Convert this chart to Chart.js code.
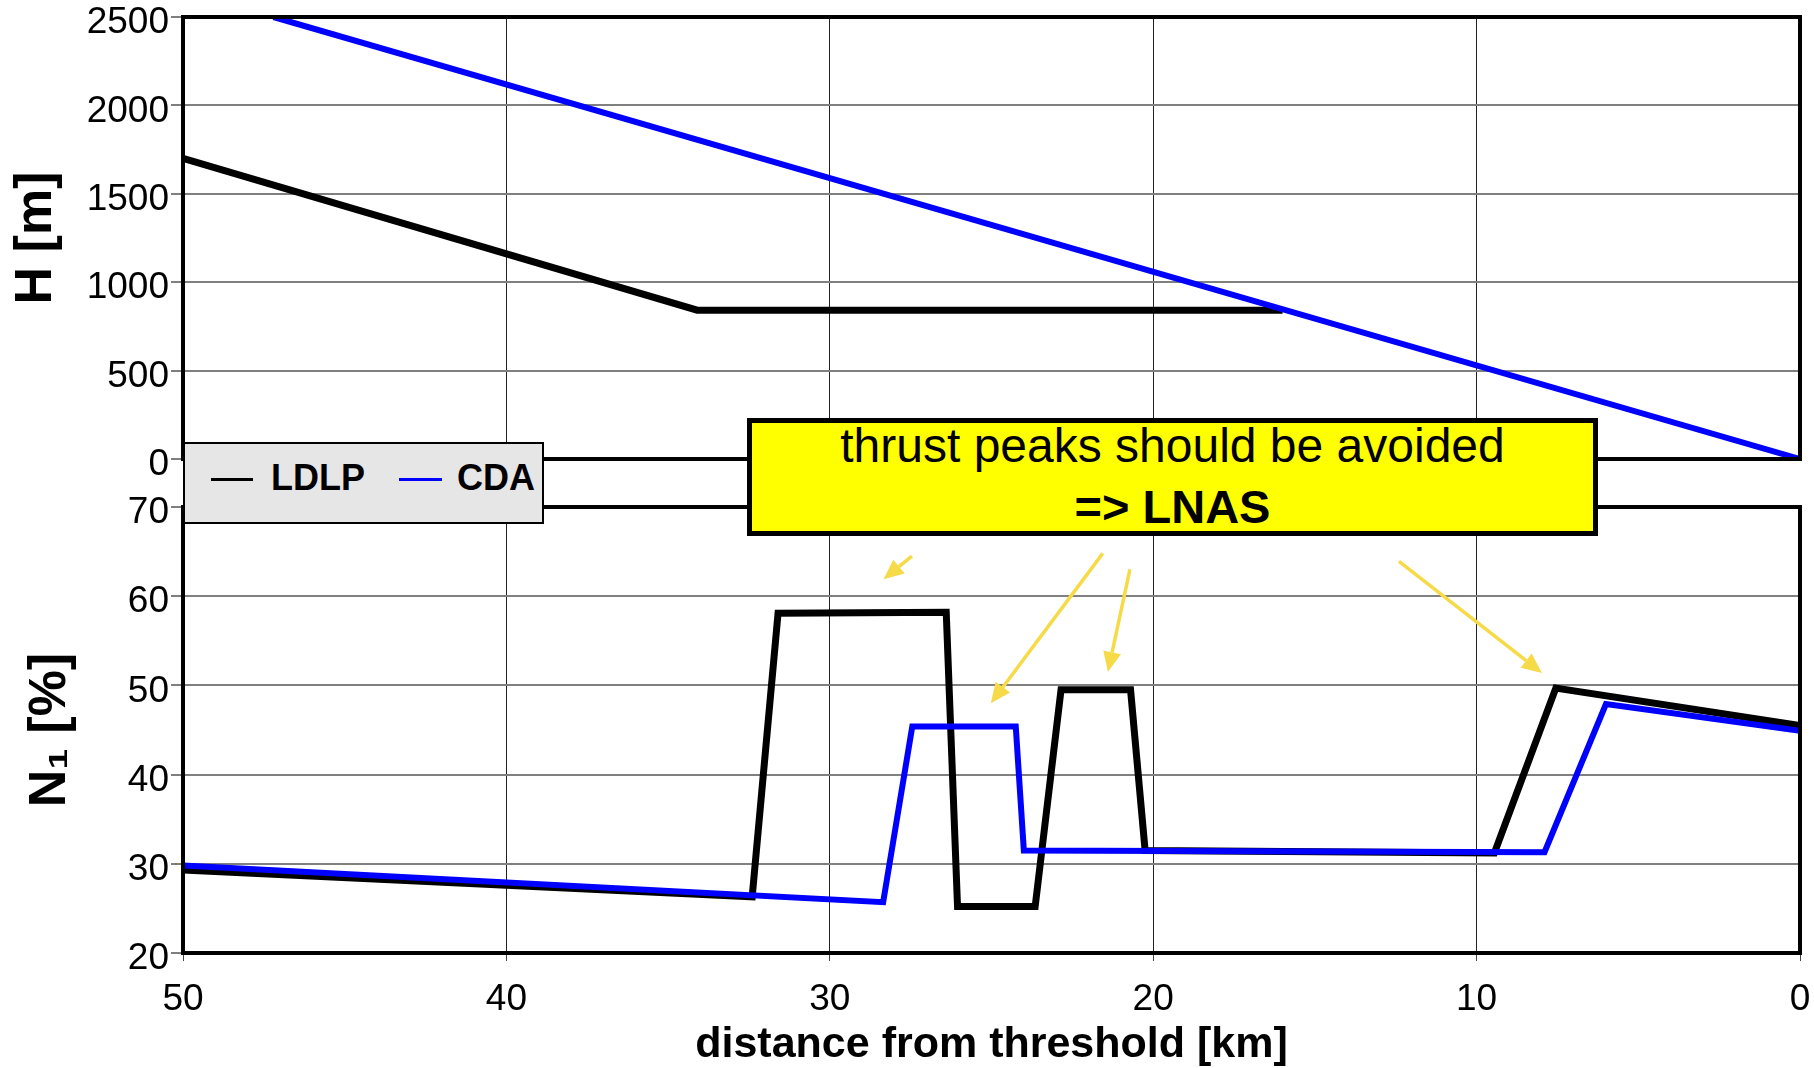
<!DOCTYPE html>
<html>
<head>
<meta charset="utf-8">
<title>Approach profiles: height and thrust</title>
<script src="https://cdn.jsdelivr.net/npm/chart.js@4.4.1/dist/chart.umd.min.js"></script>
<style>
  html, body { margin: 0; padding: 0; background: #fff; }
  body { width: 1814px; height: 1068px; position: relative; overflow: hidden;
         font-family: "Liberation Sans", Arial, sans-serif; color: #000; }
  #hCanvas { position: absolute; left: 0; top: 0; }
  #nCanvas { position: absolute; left: 0; top: 480px; }
  .legend { position: absolute; left: 183px; top: 442px; width: 361px; height: 82px;
            box-sizing: border-box; background: #e6e6e6; border: 2px solid #000; }
  .legend .swatch { position: absolute; top: 34px; height: 3px; }
  .legend .name { position: absolute; top: 16px; font-size: 36px; line-height: 36px; font-weight: bold; white-space: nowrap; }
  .note { position: absolute; left: 747px; top: 418px; width: 851px; height: 118px;
          box-sizing: border-box; background: #ffff00; border: 5px solid #000; }
  .note div { position: absolute; left: 0; right: 0; text-align: center; white-space: nowrap; }
</style>
</head>
<body>
<canvas id="hCanvas" width="1814" height="480"></canvas>
<canvas id="nCanvas" width="1814" height="588"></canvas>

<div class="legend">
  <div class="swatch" style="left:26px;width:42px;background:#000;"></div>
  <div class="name" style="left:86px;">LDLP</div>
  <div class="swatch" style="left:214px;width:43px;background:#0000ff;"></div>
  <div class="name" style="left:272px;">CDA</div>
</div>

<div class="note">
  <div style="top:-1px;font-size:48px;line-height:48px;">thrust peaks should be avoided</div>
  <div style="top:60px;font-size:47px;line-height:47px;font-weight:bold;">=&gt; LNAS</div>
</div>

<script>
// Distance from the runway threshold, km (axis runs 50 -> 0)
const distanceTicks = [0, 10, 20, 30, 40, 50];

// Upper panel: height H [m]
const heightTicks = [0, 500, 1000, 1500, 2000, 2500];
const heightKmLDLP = [50, 34.1, 16.0];
const heightLDLP   = [1700, 842, 842];
const heightKmCDA  = [47.2, 0];
const heightCDA    = [2500, 0];

// Lower panel: fan speed N1 [%]
const thrustTicks = [20, 30, 40, 50, 60, 70];
const thrustKmLDLP = [50, 32.4, 31.6, 26.4, 26.05, 23.65, 22.85, 20.7, 20.25, 9.45, 7.55, 0];
const thrustLDLP   = [29.3, 26.3, 58.1, 58.2, 25.2, 25.2, 49.5, 49.5, 31.5, 31.2, 49.7, 45.5];
const thrustKmCDA  = [50, 28.35, 27.45, 24.25, 24.0, 7.9, 6.0, 0];
const thrustCDA    = [29.8, 25.7, 45.4, 45.4, 31.5, 31.3, 47.9, 44.9];

// Callout arrows in the lower panel, [km, N1] from tail to tip
const callouts = [
  { from: [27.46, 64.5], to: [28.34, 61.9] },
  { from: [21.56, 64.8], to: [25.02, 48.0] },
  { from: [20.72, 63.0], to: [21.40, 51.5] },
  { from: [12.40, 63.9], to: [7.98, 51.4] }
];

const pts = (xs, ys) => xs.map((x, i) => ({ x, y: ys[i] }));
const FONT = '"Liberation Sans", Arial, sans-serif';
Chart.defaults.font.family = FONT;
Chart.defaults.color = '#000';

// Heavy frame around each plot area
const framePlugin = {
  id: 'frame',
  afterDraw(chart) {
    const { ctx, chartArea: a } = chart;
    ctx.save();
    ctx.strokeStyle = '#000';
    ctx.lineWidth = 4;
    ctx.strokeRect(a.left, a.top, a.right - a.left, a.bottom - a.top);
    ctx.restore();
  }
};

// Yellow arrows pointing at the thrust peaks
const calloutPlugin = {
  id: 'callouts',
  afterDraw(chart) {
    const { ctx, scales: { x, y } } = chart;
    ctx.save();
    ctx.strokeStyle = '#f6da48';
    ctx.fillStyle = '#f6da48';
    ctx.lineWidth = 3.5;
    callouts.forEach(c => {
      const x0 = x.getPixelForValue(c.from[0]), y0 = y.getPixelForValue(c.from[1]);
      const x1 = x.getPixelForValue(c.to[0]),   y1 = y.getPixelForValue(c.to[1]);
      const ang = Math.atan2(y1 - y0, x1 - x0);
      const head = 20, half = 9;
      const bx = x1 - head * Math.cos(ang), by = y1 - head * Math.sin(ang);
      ctx.beginPath();
      ctx.moveTo(x0, y0);
      ctx.lineTo(bx, by);
      ctx.stroke();
      ctx.beginPath();
      ctx.moveTo(x1, y1);
      ctx.lineTo(bx + half * Math.sin(ang), by - half * Math.cos(ang));
      ctx.lineTo(bx - half * Math.sin(ang), by + half * Math.cos(ang));
      ctx.closePath();
      ctx.fill();
    });
    ctx.restore();
  }
};

// Value labels sit a little below their grid line: an empty first line nudges them down
const yTickFont = { family: FONT, size: 37, lineHeight: '12px' };
const yTickLabel = v => ['', String(v)];
const xTickFont = { family: FONT, size: 37 };
const fixTicks = list => s => { s.ticks = list.map(v => ({ value: v })); };
const yWidth = s => { s.width = 183; s.paddingTop = 0; s.paddingBottom = 0; };

function baseOptions(padding) {
  return {
    responsive: false,
    animation: false,
    devicePixelRatio: 1,
    layout: { padding },
    plugins: { legend: { display: false }, tooltip: { enabled: false } },
    elements: {
      point: { radius: 0 },
      line: { tension: 0, borderJoinStyle: 'miter', borderCapStyle: 'butt', fill: false }
    }
  };
}

// Upper panel
const hOpts = baseOptions({ top: 17, right: 14, bottom: 21, left: 0 });
hOpts.scales = {
  x: {
    type: 'linear', reverse: true, min: 0, max: 50,
    afterBuildTicks: fixTicks(distanceTicks),
    ticks: { display: false },
    grid: { color: '#222', lineWidth: 1, drawTicks: false },
    border: { display: false },
    afterFit: s => { s.height = 0; s.paddingLeft = 0; s.paddingRight = 0; }
  },
  y: {
    min: 0, max: 2500,
    afterBuildTicks: fixTicks(heightTicks),
    ticks: { font: yTickFont, color: '#000', padding: 2, callback: yTickLabel },
    grid: { color: '#808080', lineWidth: 2, tickLength: 12, tickColor: '#000', tickWidth: 1 },
    border: { display: false },
    title: { display: true, text: 'H [m]', color: '#000',
             font: { family: FONT, size: 52, weight: 'bold', lineHeight: 1 },
             padding: { top: 11, bottom: 0 } },
    afterFit: yWidth
  }
};
new Chart(document.getElementById('hCanvas'), {
  type: 'line',
  data: {
    datasets: [
      { label: 'CDA', data: pts(heightKmCDA, heightCDA), borderColor: '#0000ff', borderWidth: 6, order: 0 },
      { label: 'LDLP', data: pts(heightKmLDLP, heightLDLP), borderColor: '#000000', borderWidth: 7, order: 1 }
    ]
  },
  options: hOpts,
  plugins: [framePlugin]
});

// Lower panel
const nOpts = baseOptions({ top: 27, right: 14, bottom: 0, left: 0 });
nOpts.scales = {
  x: {
    type: 'linear', reverse: true, min: 0, max: 50,
    afterBuildTicks: fixTicks(distanceTicks),
    ticks: { font: xTickFont, color: '#000', padding: 17, maxRotation: 0 },
    grid: { color: '#222', lineWidth: 1, tickLength: 8, tickColor: '#444', tickWidth: 1 },
    border: { display: false },
    title: { display: true, text: 'distance from threshold [km]', color: '#000',
             font: { family: FONT, size: 43, weight: 'bold', lineHeight: 1 },
             padding: { top: 0, bottom: 1 } },
    afterFit: s => { s.height = 115; s.paddingLeft = 0; s.paddingRight = 0; }
  },
  y: {
    min: 20, max: 70,
    afterBuildTicks: fixTicks(thrustTicks),
    ticks: { font: yTickFont, color: '#000', padding: 2, callback: yTickLabel },
    grid: { color: '#808080', lineWidth: 2, tickLength: 12, tickColor: '#000', tickWidth: 1 },
    border: { display: false },
    title: { display: true, text: 'N\u2081 [%]', color: '#000',
             font: { family: FONT, size: 52, weight: 'bold', lineHeight: 1 },
             padding: { top: 25, bottom: 0 } },
    afterFit: yWidth
  }
};
new Chart(document.getElementById('nCanvas'), {
  type: 'line',
  data: {
    datasets: [
      { label: 'CDA', data: pts(thrustKmCDA, thrustCDA), borderColor: '#0000ff', borderWidth: 6, order: 0 },
      { label: 'LDLP', data: pts(thrustKmLDLP, thrustLDLP), borderColor: '#000000', borderWidth: 7, order: 1 }
    ]
  },
  options: nOpts,
  plugins: [framePlugin, calloutPlugin]
});
</script>
</body>
</html>
